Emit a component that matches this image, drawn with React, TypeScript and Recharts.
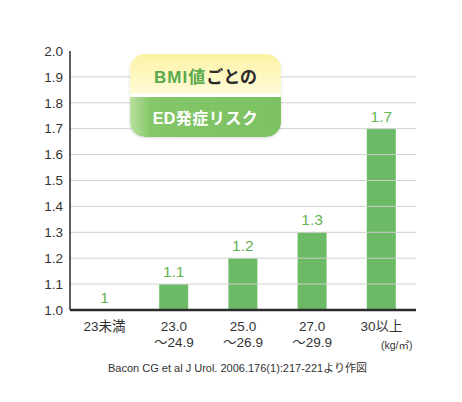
import { BarChart, Bar, XAxis, YAxis, ReferenceLine, LabelList } from "recharts";

const FONT = "'Liberation Sans', 'Noto Sans CJK JP', sans-serif";

const categories = ["23未満", "23.0～24.9", "25.0～26.9", "27.0～29.9", "30以上"];
const categoryLines = [["23未満"], ["23.0", "～24.9"], ["25.0", "～26.9"], ["27.0", "～29.9"], ["30以上"]];
const risk = [1, 1.1, 1.2, 1.3, 1.7];
const yTicks = [1.0, 1.1, 1.2, 1.3, 1.4, 1.5, 1.6, 1.7, 1.8, 1.9, 2.0];
const gridValues = [1.1, 1.2, 1.3, 1.4, 1.5, 1.6, 1.7, 1.8, 1.9];

const data = categories.map((name, i) => ({ name, risk: risk[i] }));

function CategoryTick({ x, y, index }: any) {
  const lines = categoryLines[index] || [];
  return (
    <text x={x} y={y} textAnchor="middle" fill="#333" fontSize={13.5} fontFamily={FONT}>
      {lines.map((l, i) => (
        <tspan key={i} x={x} dy={i === 0 ? 21 : 16}>
          {l}
        </tspan>
      ))}
    </text>
  );
}

export default function App() {
  return (
    <div style={{ position: "absolute", left: 0, top: 0, width: 462, height: 402, background: "#fff", fontFamily: FONT }}>
      <BarChart
        width={462}
        height={402}
        data={data}
        margin={{ top: 51, right: 46, bottom: 52, left: 0 }}
        barCategoryGap="29%"
      >
        {gridValues.map((v) => (
          <ReferenceLine key={v} y={v} stroke="#cfcfcf" strokeWidth={1} />
        ))}
        <XAxis
          dataKey="name"
          height={40}
          axisLine={{ stroke: "#2b2b2b", strokeWidth: 2.5 }}
          tickLine={false}
          tickSize={0}
          tickMargin={0}
          interval={0}
          tick={<CategoryTick />}
        />
        <YAxis
          width={70}
          domain={[1, 2]}
          ticks={yTicks}
          interval={0}
          allowDataOverflow
          axisLine={{ stroke: "#2b2b2b", strokeWidth: 1.5 }}
          tickLine={false}
          tickSize={0}
          tickMargin={7}
          tickFormatter={(v: number) => v.toFixed(1)}
          tick={{ fill: "#333", fontSize: 13.5, fontFamily: FONT }}
        />
        <Bar dataKey="risk" fill="#6cba66" barSize={29} minPointSize={0.5} isAnimationActive={false}>
          <LabelList
            dataKey="risk"
            position="top"
            offset={7}
            fill="#62b455"
            fontSize={15.5}
            fontFamily={FONT}
          />
        </Bar>
      </BarChart>

      <div
        style={{
          position: "absolute",
          left: 130,
          top: 54,
          width: 151,
          height: 83,
          borderRadius: 15,
          overflow: "hidden",
          boxShadow: "0 1px 3px rgba(0,0,0,0.15)",
        }}
      >
        <div
          style={{
            height: 40,
            background: "linear-gradient(180deg, #fcf3a6 0%, #fffbd8 100%)",
            display: "flex",
            alignItems: "center",
            justifyContent: "center",
            fontWeight: 700,
            fontSize: 17,
            paddingTop: 2,
            boxSizing: "border-box",
          }}
        >
          <span style={{ color: "#5aaa4c", letterSpacing: 1 }}>BMI値</span>
          <span style={{ color: "#2b2b2b" }}>ごとの</span>
        </div>
        <div style={{ height: 3, background: "#fff" }} />
        <div
          style={{
            height: 40,
            background: "linear-gradient(90deg, #b9e09e 0%, #84c668 14%, #7cc262 100%)",
            display: "flex",
            alignItems: "center",
            justifyContent: "center",
            fontWeight: 700,
            fontSize: 16,
            letterSpacing: 0.5,
            color: "#fff",
          }}
        >
          ED発症リスク
        </div>
      </div>

      <div style={{ position: "absolute", left: 381, top: 337, fontSize: 10.5, color: "#333" }}>(kg/㎡)</div>
      <div style={{ position: "absolute", left: 0, width: 475, top: 359, textAlign: "center", fontSize: 11, color: "#333" }}>
        Bacon CG et al J Urol. 2006.176(1):217-221より作図
      </div>
    </div>
  );
}
